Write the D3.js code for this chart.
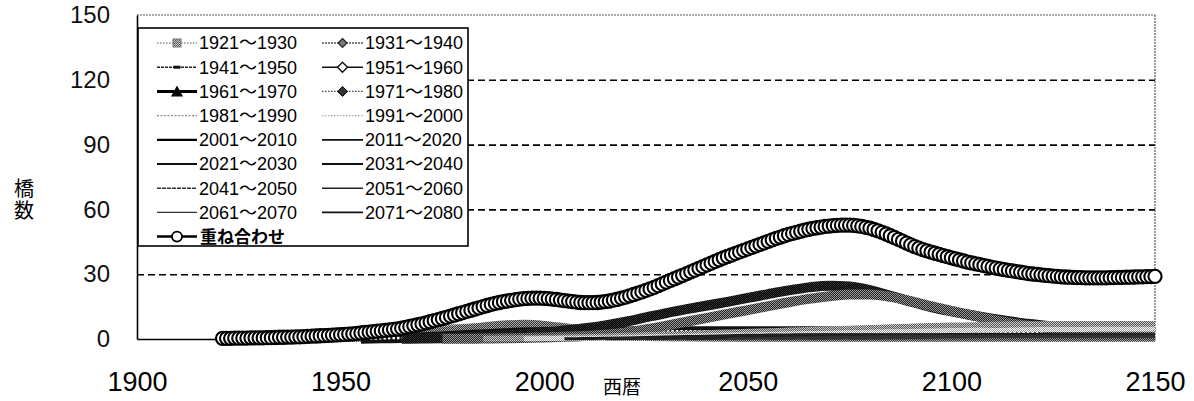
<!DOCTYPE html>
<html><head><meta charset="utf-8">
<script src="https://cdn.jsdelivr.net/npm/d3@7"></script>
<style>
html,body{margin:0;padding:0;background:#fff;}
svg{display:block;}
</style></head><body>
<svg id="chart" width="1194" height="401"></svg>
<script>
// ---------- data ----------
const years = d3.range(1921, 2151); // annual categories for the superposition
const sumValues = [
0.3,0.3,0.3,0.4,0.4,0.4,0.4,0.5,0.5,0.5,
0.5,0.6,0.6,0.7,0.8,0.8,0.9,0.9,1.0,1.0,
1.1,1.2,1.3,1.4,1.5,1.6,1.7,1.8,1.9,2.0,
2.1,2.3,2.4,2.6,2.8,3.0,3.2,3.4,3.6,3.8,
4.0,4.2,4.5,4.7,5.0,5.4,5.8,6.2,6.6,7.0,
7.5,8.0,8.5,9.0,9.5,10.0,10.6,11.1,11.7,12.2,
12.8,13.3,13.9,14.4,15.0,15.5,16.0,16.5,16.9,17.3,
17.6,17.9,18.2,18.5,18.7,18.8,18.9,18.9,18.9,18.8,
18.7,18.5,18.3,18.0,17.8,17.5,17.3,17.1,16.9,16.8,
16.8,16.8,16.9,17.1,17.3,17.6,18.0,18.4,18.9,19.4,
20.0,20.6,21.2,21.8,22.5,23.2,23.9,24.7,25.5,26.3,
27.1,27.9,28.7,29.5,30.3,31.1,31.9,32.7,33.5,34.3,
35.1,35.9,36.7,37.5,38.2,38.9,39.6,40.3,41.0,41.7,
42.4,43.1,43.8,44.5,45.2,45.9,46.6,47.2,47.8,48.4,
48.9,49.4,49.9,50.4,50.8,51.2,51.5,51.8,52.1,52.3,
52.5,52.6,52.7,52.7,52.7,52.6,52.4,52.1,51.7,51.3,
50.7,50.1,49.4,48.6,47.8,47.0,46.1,45.3,44.4,43.6,
42.8,42.1,41.4,40.8,40.2,39.7,39.2,38.6,38.1,37.6,
37.1,36.6,36.1,35.6,35.2,34.8,34.4,34.0,33.6,33.2,
32.8,32.5,32.1,31.8,31.5,31.2,30.9,30.6,30.3,30.1,
29.9,29.7,29.5,29.3,29.1,29.0,28.8,28.7,28.6,28.5,
28.4,28.4,28.3,28.3,28.3,28.3,28.3,28.3,28.4,28.4,
28.5,28.5,28.6,28.6,28.7,28.8,28.8,28.9,28.9,29.0
];

const cohortLabels = ["1921～1930","1931～1940","1941～1950","1951～1960","1961～1970","1971～1980",
  "1981～1990","1991～2000","2001～2010","2011～2020","2021～2030","2031～2040",
  "2041～2050","2051～2060","2061～2070","2071～2080"];
// first year of each cohort's 5-year series
const cohortStarts = [1925,1935,1945,1955,1965,1975,1985,1995,2005,2015,2025,2035,2045,2055,2065,2075];

const c1921 = [0.3,0.5,0.8,1.0,1.4,1.8,2.3,2.8,3.3,3.9, 4.5,5.0,5.2,5.0,4.4,3.6,2.8,2.1,1.6,1.3,
  1.1,1.0,0.9,0.9,0.8,0.8,0.8,0.8,0.8,0.8, 0.8,0.8,0.8,0.8,0.8,0.8,0.8,0.8,0.8,0.8, 0.8,0.8,0.8,0.8,0.8,0.8];
const c1931 = [0.1,0.2,0.4,0.6,0.9,1.3,1.8,2.5, 3.4,4.5,5.6,6.5,6.8,6.3,5.2,3.9,2.8,2.1,
  1.6,1.3,1.1,1.0,1.0,0.9,0.9,0.9,0.9,0.9, 0.9,0.9,0.9,0.9,0.9,0.9,0.9,0.9,0.9,0.9, 0.9,0.9,0.9,0.9,0.9,0.9];
const c1941 = [0.1,0.2,0.3,0.5,0.7,1.0, 1.4,2.0,2.7,3.4,3.9,4.0,3.6,2.9,2.2,1.7,
  1.4,1.2,1.1,1.0,0.9,0.9,0.9,0.9,0.9,0.9, 0.9,0.9,0.9,0.9,0.9,0.9,0.9,0.9,0.9,0.9, 0.9,0.9,0.9,0.9,0.9,0.9];
const c1951 = [0.1,0.3,0.5,0.8, 1.2,1.7,2.2,2.7,3.0,3.2,3.3,3.4,3.5,3.5,
  3.6,3.6,3.6,3.6,3.6,3.6,3.6,3.6,3.6,3.6, 3.5,3.5,3.5,3.5,3.4,3.4,3.4,3.4,3.3,3.3, 3.3,3.3,3.2,3.2,3.2,3.2];
const c1961 = [0.1,0.2, 0.4,0.7,1.0,1.5,2.2,3.0,4.0,5.0,6.3,8.0,
  10.0,12.0,13.8,15.5,17.2,19.0,20.8,22.5,23.9,24.7, 24.3,22.6,20.0,17.3,14.8,12.8,11.0,9.4,8.0,6.8,
  5.8,5.0,4.4,4.0,3.7,3.5];
const c1971 = [0.1,0.1,0.2,0.3,0.5,0.7,1.0,1.4,2.0,3.0, 4.5,6.2,8.0,9.8,11.6,13.4,15.2,17.0,18.6,19.8,
  20.6,20.6,19.5,17.5,15.2,13.0,11.0,9.0,7.2,5.8, 4.8,4.0,3.5,3.2,3.0,3.0];
const c1981 = [0.1,0.2,0.3,0.5,0.7,0.9,1.2,1.5, 1.8,2.1,2.4,2.7,3.0,3.3,3.6,3.9,4.2,4.5,
  4.8,5.1,5.4,5.7,6.0,6.2,6.4,6.6,6.7,6.8, 6.9,7.0,7.0,7.0,7.0,7.0];
const c1991 = [0.1,0.2,0.3,0.4,0.5,0.7, 0.9,1.1,1.3,1.5,1.7,1.9,2.1,2.3,2.5,2.7,
  2.9,3.1,3.3,3.5,3.7,3.9,4.0,4.1,4.2,4.3, 4.4,4.4,4.5,4.5,4.5,4.5];
const c2001 = [0.1,0.2,0.3,0.5, 0.7,0.9,1.1,1.3,1.5,1.7,1.8,1.9,2.0,2.0,
  2.0,2.0,2.0,2.0,1.9,1.9,1.9,1.8,1.8,1.8, 1.8,1.8,1.8,1.8,1.8,1.8];
const c2011 = [0.1,0.2, 0.3,0.5,0.7,0.9,1.1,1.3,1.5,1.6,1.7,1.8,
  1.8,1.8,1.8,1.8,1.8,1.8,1.8,1.8,1.8,1.8, 1.8,1.8,1.8,1.8,1.8,1.8];
const c2021 = [0.1,0.2,0.3,0.5,0.7,0.9,1.1,1.3,1.4,1.5, 1.6,1.6,1.7,1.7,1.7,1.7,1.7,1.7,1.7,1.7,
  1.7,1.7,1.7,1.7,1.7,1.7];
const c2031 = [0.1,0.2,0.3,0.5,0.7,0.9,1.1,1.2, 1.3,1.4,1.5,1.5,1.5,1.5,1.5,1.5,1.5,1.5,
  1.5,1.5,1.5,1.5,1.5,1.5];
const c2041 = [0.1,0.2,0.3,0.5,0.7,0.9, 1.0,1.1,1.2,1.3,1.3,1.3,1.3,1.3,1.3,1.3,
  1.3,1.3,1.3,1.3,1.3,1.3];
const c2051 = [0.1,0.2,0.3,0.5, 0.7,0.9,1.0,1.1,1.2,1.2,1.2,1.2,1.2,1.2, 1.2,1.2,1.2,1.2,1.2,1.2];
const c2061 = [0.1,0.2, 0.3,0.5,0.7,0.8,0.9,1.0,1.0,1.0,1.0,1.0, 1.0,1.0,1.0,1.0,1.0,1.0];
const c2071 = [0.1,0.2,0.3,0.5,0.6,0.7,0.8,0.9,0.9,0.9, 0.9,0.9,0.9,0.9,0.9,0.9];
const cohortSeries = [c1921,c1931,c1941,c1951,c1961,c1971,c1981,c1991,
  c2001,c2011,c2021,c2031,c2041,c2051,c2061,c2071];

const sumLabel = "重ね合わせ";
const yTicks = [0,30,60,90,120,150];
const gridTicks = [30,60,90,120];
const xTicks = [1900,1950,2000,2050,2100,2150];
const yTitle = "橋数";
const xTitle = "西暦";

// ---------- styles (kept apart from data) ----------
const bandStyle = [
  {p:"url(#pGrayLight)", w:9},{p:"url(#pGray)", w:9},{p:"url(#pGrayDark)", w:6},{p:"#111", w:10, inner:true},
  {p:"url(#pBlack)", w:10},{p:"url(#pGrayDark)", w:10},{p:"url(#pGrayLight)", w:6},{p:"url(#pLight)", w:5},
  {p:"#1a1a1a", w:3},{p:"#222", w:3},{p:"#222", w:2.5},{p:"#222", w:2.5},
  {p:"#333", w:2.2},{p:"#333", w:2.2},{p:"#333", w:2},{p:"#333", w:2}
];
const legendStyle = [
  {c:"#888", w:1.4, dash:"1.5,1.5", m:"square"},
  {c:"#555", w:1.4, dash:"2,1", m:"diamondDark"},
  {c:"#222", w:1.6, dash:"3,1", m:"dash"},
  {c:"#111", w:1.5, dash:null, m:"diamondWhite"},
  {c:"#000", w:3, dash:null, m:"triangle"},
  {c:"#444", w:1.4, dash:"1.5,1.5", m:"diamondBlack"},
  {c:"#888", w:1.2, dash:"2,1.5", m:null},
  {c:"#aaa", w:1.2, dash:"1.5,1.5", m:null},
  {c:"#000", w:2.2, dash:null, m:null},
  {c:"#111", w:1.8, dash:null, m:null},
  {c:"#111", w:1.8, dash:null, m:null},
  {c:"#111", w:1.8, dash:null, m:null},
  {c:"#333", w:1.6, dash:"4,1", m:null},
  {c:"#222", w:1.6, dash:null, m:null},
  {c:"#333", w:1.4, dash:null, m:null},
  {c:"#111", w:1.8, dash:null, m:null}
];

// ---------- chart ----------
const svg = d3.select("#chart");
const x = d3.scaleLinear().domain([1900, 2150]).range([137, 1155]);
const y = d3.scaleLinear().domain([0, 150]).range([339, 15]);
const tickFont = "'Liberation Sans', Arial, sans-serif";
const narrowFont = "'Liberation Sans Narrow', 'Liberation Sans', 'Noto Sans CJK JP', sans-serif";
const cjkFont = "'Noto Sans CJK JP', sans-serif";

// speckle patterns imitating the scanned dense markers
const defs = svg.append("defs");
function checker(id, a, b) {
  const p = defs.append("pattern").attr("id", id).attr("patternUnits", "userSpaceOnUse")
    .attr("width", 2).attr("height", 2);
  p.append("rect").attr("width", 2).attr("height", 2).attr("fill", a);
  p.append("rect").attr("width", 1).attr("height", 1).attr("fill", b);
  p.append("rect").attr("x", 1).attr("y", 1).attr("width", 1).attr("height", 1).attr("fill", b);
}
checker("pBlack", "#000", "#333");
checker("pGrayDark", "#222", "#9a9a9a");
checker("pGray", "#333", "#aaa");
checker("pGrayLight", "#555", "#ccc");
checker("pLight", "#999", "#fff");

// gridlines
const grid = svg.append("g").attr("transform", `translate(${x(1900)},0)`)
  .call(d3.axisLeft(y).tickValues(gridTicks).tickSize(-(x(2150) - x(1900))).tickFormat(""));
grid.select(".domain").remove();
grid.selectAll("line").attr("stroke", "#000").attr("stroke-width", 1.6).attr("stroke-dasharray", "7,4");

// top & right border (dotted gray)
svg.append("line").attr("x1", x(1900)).attr("x2", x(2150)).attr("y1", y(150)).attr("y2", y(150))
  .attr("stroke", "#555").attr("stroke-width", 1.2).attr("stroke-dasharray", "2,1");
svg.append("line").attr("x1", x(2150)).attr("x2", x(2150)).attr("y1", y(150)).attr("y2", y(0))
  .attr("stroke", "#555").attr("stroke-width", 1.2).attr("stroke-dasharray", "2,1");

// axes
const xAxis = svg.append("g").attr("transform", `translate(0,${y(0)})`)
  .call(d3.axisBottom(x).tickValues(xTicks).tickSize(0).tickPadding(33).tickFormat(d3.format("d")));
xAxis.select(".domain").attr("stroke", "#000").attr("stroke-width", 1.6);
xAxis.selectAll("text").attr("font-family", narrowFont).attr("font-size", 27).attr("fill", "#000");

const yAxis = svg.append("g").attr("transform", `translate(${x(1900)},0)`)
  .call(d3.axisLeft(y).tickValues(yTicks).tickSize(0).tickPadding(27));
yAxis.select(".domain").attr("stroke", "#000").attr("stroke-width", 1.6);
yAxis.selectAll("text").attr("font-family", tickFont).attr("font-size", 24).attr("fill", "#111");

// cohort bands
const plot = svg.append("g");
cohortSeries.forEach((vals, i) => {
  const pts = vals.map((v, k) => [cohortStarts[i] + k * 5, v]);
  const line = d3.line().x(d => x(d[0])).y(d => y(d[1])).curve(d3.curveMonotoneX);
  const st = bandStyle[i];
  plot.append("path").attr("d", line(pts)).attr("fill", "none")
    .attr("stroke", st.p).attr("stroke-width", st.w).attr("stroke-linejoin", "round");
  if (st.inner) {
    plot.append("path").attr("d", line(pts)).attr("fill", "none")
      .attr("stroke", "#fff").attr("stroke-width", 2.4).attr("stroke-dasharray", "2.5,2");
  }
});

// superposition
const sumPts = years.map((yr, k) => [yr, sumValues[k]]);
plot.append("path")
  .attr("d", d3.line().x(d => x(d[0])).y(d => y(d[1]))(sumPts))
  .attr("fill", "none").attr("stroke", "#000").attr("stroke-width", 2);
plot.selectAll("circle.sum").data(sumPts).join("circle").attr("class", "sum")
  .attr("cx", d => x(d[0])).attr("cy", d => y(d[1])).attr("r", 6.6)
  .attr("fill", "#fff").attr("stroke", "#000").attr("stroke-width", 2.1);

// axis titles
svg.append("text").attr("x", 24).attr("y", 178)
  .attr("writing-mode", "vertical-rl").attr("letter-spacing", 2)
  .attr("font-family", cjkFont).attr("font-size", 20).text(yTitle);
svg.append("text").attr("x", 622).attr("y", 394).attr("text-anchor", "middle")
  .attr("font-family", cjkFont).attr("font-size", 19).text(xTitle);

// legend
const lg = svg.append("g");
lg.append("rect").attr("x", 138).attr("y", 28).attr("width", 330).attr("height", 218)
  .attr("fill", "#fff").attr("stroke", "#000").attr("stroke-width", 1.6);
const rowY = i => 43 + i * 24.2;
function marker(g, type, cx, cy) {
  if (type === "square") g.append("rect").attr("x", cx - 4).attr("y", cy - 4).attr("width", 8).attr("height", 8)
    .attr("fill", "url(#pGrayLight)").attr("stroke", "#777").attr("stroke-width", 1);
  else if (type === "diamondDark") g.append("path").attr("d", `M${cx},${cy-4.5}L${cx+4.5},${cy}L${cx},${cy+4.5}L${cx-4.5},${cy}Z`)
    .attr("fill", "#777").attr("stroke", "#222").attr("stroke-width", 1.2);
  else if (type === "dash") g.append("rect").attr("x", cx - 3.5).attr("y", cy - 1.5).attr("width", 7).attr("height", 3).attr("fill", "#111");
  else if (type === "diamondWhite") g.append("path").attr("d", `M${cx},${cy-5}L${cx+5},${cy}L${cx},${cy+5}L${cx-5},${cy}Z`)
    .attr("fill", "#fff").attr("stroke", "#111").attr("stroke-width", 1.4);
  else if (type === "triangle") g.append("path").attr("d", `M${cx},${cy-6}L${cx+6},${cy+5}L${cx-6},${cy+5}Z`).attr("fill", "#000");
  else if (type === "diamondBlack") g.append("path").attr("d", `M${cx},${cy-5}L${cx+5},${cy}L${cx},${cy+5}L${cx-5},${cy}Z`)
    .attr("fill", "#333").attr("stroke", "#000").attr("stroke-width", 1);
}
cohortLabels.forEach((lab, i) => {
  const col = i % 2, row = Math.floor(i / 2);
  const x0 = col === 0 ? 157 : 322, x1 = col === 0 ? 197 : 363;
  const cy = rowY(row);
  const st = legendStyle[i];
  const g = lg.append("g");
  g.append("line").attr("x1", x0).attr("x2", x1).attr("y1", cy).attr("y2", cy)
    .attr("stroke", st.c).attr("stroke-width", st.w).attr("stroke-dasharray", st.dash);
  if (st.m) marker(g, st.m, (x0 + x1) / 2, cy);
  g.append("text").attr("x", x1 + 2).attr("y", cy).attr("dy", "0.36em")
    .attr("font-family", narrowFont).attr("font-size", 18).text(lab);
});
{
  const cy = rowY(8);
  lg.append("line").attr("x1", 157).attr("x2", 197).attr("y1", cy).attr("y2", cy)
    .attr("stroke", "#000").attr("stroke-width", 2.5);
  lg.append("circle").attr("cx", 177).attr("cy", cy).attr("r", 5)
    .attr("fill", "#fff").attr("stroke", "#000").attr("stroke-width", 1.8);
  lg.append("text").attr("x", 200).attr("y", cy).attr("dy", "0.36em")
    .attr("font-family", cjkFont).attr("font-weight", "bold").attr("font-size", 17).text(sumLabel);
}
</script>
</body></html>
